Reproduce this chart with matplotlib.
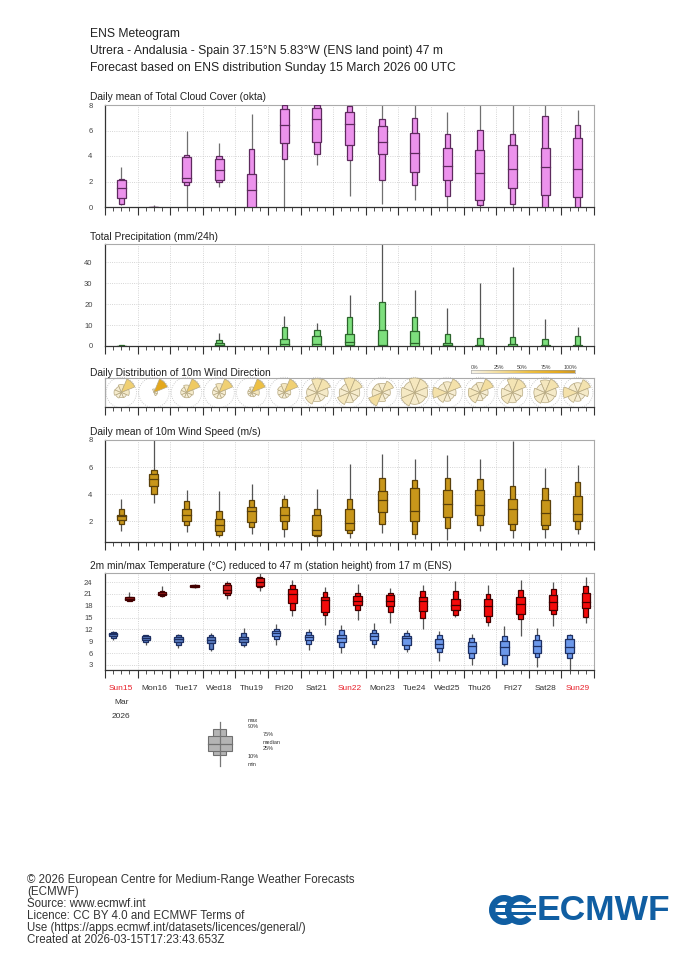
import numpy as np
import matplotlib
matplotlib.use('Agg')
import matplotlib.pyplot as plt
from matplotlib.patches import Rectangle, Wedge, Circle
from matplotlib.transforms import ScaledTranslation
from matplotlib.colors import LinearSegmentedColormap

plt.rcParams['font.family'] = ['Liberation Sans', 'DejaVu Sans']

# ---------------- data ----------------
days = ['Sun15', 'Mon16', 'Tue17', 'Wed18', 'Thu19', 'Fri20', 'Sat21', 'Sun22',
        'Mon23', 'Tue24', 'Wed25', 'Thu26', 'Fri27', 'Sat28', 'Sun29']

# each tuple: (min, p10, p25, median, p75, p90, max)
cloud = [
    (0.15, 0.26, 0.73, 1.52, 2.09, 2.22, 3.1),
    (0.0, 0.0, 0.0, 0.0, 0.0, 0.0, 0.15),
    (0.0, 1.75, 1.96, 2.27, 3.92, 4.05, 5.96),
    (1.57, 1.96, 2.09, 2.93, 3.76, 3.97, 5.02),
    (0.0, 0.0, 0.0, 1.36, 2.61, 4.58, 7.27),
    (0.0, 3.79, 5.02, 6.46, 7.66, 8.0, 8.0),
    (3.27, 4.18, 5.1, 6.9, 7.76, 8.0, 8.0),
    (0.84, 3.66, 4.84, 6.48, 7.45, 7.92, 8.0),
    (0.26, 2.09, 4.13, 5.12, 6.33, 6.93, 8.0),
    (0.58, 1.73, 2.72, 4.24, 5.8, 7.0, 8.0),
    (0.0, 0.89, 2.09, 3.22, 4.65, 5.75, 7.45),
    (0.0, 0.13, 0.52, 2.67, 4.5, 6.07, 8.0),
    (0.0, 0.21, 1.52, 2.95, 4.89, 5.73, 8.0),
    (0.0, 0.0, 0.97, 3.14, 4.65, 7.11, 8.0),
    (0.0, 0.0, 0.78, 2.95, 5.41, 6.46, 7.63),
]

precip = [
    (0.0, 0.0, 0.0, 0.1, 0.2, 0.3, 0.4),
    (0.0, 0.0, 0.0, 0.0, 0.0, 0.0, 0.0),
    (0.0, 0.0, 0.0, 0.0, 0.0, 0.0, 0.0),
    (0.0, 0.0, 0.0, 0.5, 1.6, 2.9, 6.3),
    (0.0, 0.0, 0.0, 0.0, 0.0, 0.0, 0.0),
    (0.0, 0.0, 0.0, 0.8, 3.2, 9.0, 14.3),
    (0.0, 0.0, 0.0, 1.1, 4.8, 7.6, 11.1),
    (0.0, 0.0, 0.5, 2.1, 5.9, 14.0, 24.3),
    (0.0, 0.0, 0.0, 0.6, 7.6, 21.0, 49.0),
    (0.0, 0.0, 0.0, 1.6, 7.0, 13.8, 26.8),
    (0.0, 0.0, 0.0, 0.3, 1.3, 5.7, 18.1),
    (0.0, 0.0, 0.0, 0.0, 0.5, 3.8, 30.2),
    (0.0, 0.0, 0.0, 0.0, 1.0, 4.4, 37.8),
    (0.0, 0.0, 0.0, 0.0, 0.5, 3.3, 12.9),
    (0.0, 0.0, 0.0, 0.0, 0.6, 4.8, 9.2),
]

# fraction of members per sector: N, NE, E, SE, S, SW, W, NW
wind_dir_sectors = [0, 45, 90, 135, 180, 225, 270, 315]
wind_dir = [
    [0.12, 0.40, 0.12, 0.06, 0.05, 0.07, 0.10, 0.08],
    [0.05, 0.85, 0.05, 0.05, 0.00, 0.00, 0.00, 0.00],
    [0.12, 0.45, 0.10, 0.07, 0.06, 0.06, 0.07, 0.07],
    [0.15, 0.40, 0.08, 0.07, 0.07, 0.07, 0.08, 0.08],
    [0.08, 0.55, 0.15, 0.06, 0.04, 0.04, 0.04, 0.04],
    [0.15, 0.40, 0.08, 0.06, 0.06, 0.07, 0.08, 0.10],
    [0.18, 0.20, 0.12, 0.08, 0.08, 0.15, 0.10, 0.09],
    [0.20, 0.18, 0.10, 0.08, 0.10, 0.16, 0.10, 0.08],
    [0.10, 0.18, 0.08, 0.06, 0.10, 0.25, 0.12, 0.11],
    [0.15, 0.15, 0.12, 0.10, 0.10, 0.15, 0.13, 0.10],
    [0.12, 0.22, 0.08, 0.06, 0.08, 0.12, 0.22, 0.10],
    [0.12, 0.25, 0.08, 0.06, 0.08, 0.15, 0.16, 0.10],
    [0.18, 0.20, 0.10, 0.08, 0.10, 0.14, 0.12, 0.08],
    [0.15, 0.20, 0.12, 0.10, 0.10, 0.13, 0.12, 0.08],
    [0.10, 0.20, 0.12, 0.06, 0.08, 0.12, 0.22, 0.10],
]

wind_speed = [
    (1.28, 1.75, 2.10, 2.37, 2.47, 2.91, 3.65),
    (3.36, 4.02, 4.57, 5.14, 5.48, 5.80, 8.0),
    (1.19, 1.73, 1.98, 2.47, 2.86, 3.50, 4.32),
    (0.84, 0.94, 1.23, 1.68, 2.12, 2.72, 4.20),
    (1.04, 1.53, 1.93, 2.72, 3.01, 3.56, 4.77),
    (0.79, 1.43, 2.02, 2.42, 3.01, 3.60, 3.90),
    (0.44, 0.86, 0.99, 1.36, 2.42, 2.91, 4.40),
    (0.77, 1.14, 1.36, 1.88, 2.86, 3.65, 6.22),
    (1.09, 1.80, 2.67, 3.58, 4.20, 5.19, 6.99),
    (0.69, 1.06, 2.02, 2.77, 4.47, 5.06, 6.57),
    (0.57, 1.51, 2.30, 3.28, 4.27, 5.19, 6.91),
    (1.23, 1.68, 2.42, 3.21, 4.27, 5.14, 6.62),
    (0.74, 1.36, 1.80, 2.91, 3.65, 4.59, 7.90),
    (0.74, 1.38, 1.73, 2.62, 3.56, 4.47, 5.93),
    (1.04, 1.38, 2.02, 2.54, 3.83, 4.89, 6.17),
]

tmin = [
    (9.4, 9.9, 10.2, 10.73, 11.15, 11.3, 11.57),
    (8.0, 8.9, 9.4, 9.9, 10.3, 10.5, 10.7),
    (7.4, 8.0, 8.7, 9.55, 10.06, 10.56, 10.9),
    (6.5, 7.1, 8.6, 9.4, 10.06, 10.56, 11.1),
    (7.5, 8.0, 8.9, 9.55, 10.06, 11.1, 12.4),
    (8.0, 9.6, 10.2, 11.1, 11.7, 12.2, 13.4),
    (6.7, 8.4, 9.4, 10.06, 10.7, 11.4, 12.2),
    (6.1, 7.5, 8.9, 9.9, 10.7, 11.9, 13.1),
    (7.2, 8.4, 9.2, 10.2, 11.1, 11.9, 13.7),
    (6.3, 6.9, 8.0, 9.7, 10.2, 11.1, 11.9),
    (4.0, 6.2, 7.4, 8.4, 9.55, 10.7, 11.7),
    (3.0, 4.85, 6.0, 7.7, 8.7, 9.9, 10.9),
    (2.7, 3.3, 5.5, 7.5, 9.05, 10.4, 12.8),
    (2.5, 5.0, 6.1, 7.9, 9.4, 10.56, 12.4),
    (1.7, 4.7, 6.1, 7.5, 9.55, 10.7, 10.9),
]

tmax = [
    (19.1, 19.3, 19.5, 19.8, 20.1, 20.3, 21.5),
    (20.3, 20.5, 20.65, 21.0, 21.5, 21.65, 22.9),
    (22.5, 22.7, 22.75, 23.0, 23.25, 23.3, 23.5),
    (19.8, 20.8, 21.3, 22.1, 23.2, 23.8, 24.3),
    (21.8, 22.7, 23.0, 24.0, 25.0, 25.4, 26.3),
    (15.3, 17.0, 18.6, 21.0, 22.2, 23.3, 24.5),
    (13.1, 15.6, 16.4, 19.5, 20.1, 21.5, 22.7),
    (14.3, 17.0, 18.3, 19.3, 20.5, 21.3, 23.5),
    (13.6, 16.4, 17.9, 19.3, 20.65, 21.3, 22.5),
    (12.0, 14.9, 16.6, 19.1, 20.1, 21.65, 23.2),
    (15.1, 15.6, 16.9, 18.3, 19.6, 21.65, 24.3),
    (12.9, 13.9, 15.3, 18.0, 19.6, 21.1, 23.2),
    (10.3, 14.6, 15.8, 18.5, 20.1, 22.0, 24.5),
    (12.9, 15.8, 16.9, 19.0, 20.65, 22.3, 24.0),
    (13.6, 15.1, 17.3, 19.0, 21.15, 23.0, 25.2),
]

# ---------------- styles ----------------
tmin_fill = ['#5a7dc2'] * 5 + ['#6c98ea'] * 10
tmax_fill = ['#8c1c1c', '#9a1a1a', '#a81a1a', '#d41c1c', '#e41414'] + ['#f40a0a'] * 10

W, H = 700, 966
fig = plt.figure(figsize=(W / 100, H / 100), dpi=100)


def ax_px(l, t, r, b, **kw):
    return fig.add_axes([l / W, 1 - b / H, (r - l) / W, (b - t) / H], **kw)


def style(ax, ylim, yticks):
    ax.set_xlim(0, 15)
    ax.set_ylim(*ylim)
    ax.set_xticks(np.arange(0, 16))
    ax.set_xticks(np.arange(0, 15.01, 0.25), minor=True)
    ax.tick_params(axis='x', which='major', length=6, width=0.8, color='#333',
                   labelbottom=False, direction='out')
    ax.tick_params(axis='x', which='minor', length=3, width=0.6, color='#333',
                   direction='out')
    if yticks is None:
        ax.set_yticks([])
    else:
        ax.set_yticks(yticks)
        ax.set_yticklabels([str(v) for v in yticks])
    ax.tick_params(axis='y', length=0, labelsize=5.5, labelcolor='#444', pad=9)
    for s in ['top', 'right']:
        ax.spines[s].set_color('#aaaaaa')
        ax.spines[s].set_linewidth(0.8)
    for s in ['left', 'bottom']:
        ax.spines[s].set_color('#333333')
        ax.spines[s].set_linewidth(0.9)
    ax.grid(axis='x', which='major', ls=':', color='#c8c8c8', lw=0.6)
    if yticks is not None:
        ax.grid(axis='y', ls=':', color='#c8c8c8', lw=0.6)
    ax.set_axisbelow(True)


def draw_box(ax, x, s, fill, edge, whisk='#666666', wn=0.16, ww=0.28):
    mn, p10, p25, med, p75, p90, mx = s
    ax.plot([x, x], [mn, mx], color=whisk, lw=0.9, zorder=2, solid_capstyle='butt')
    ax.add_patch(Rectangle((x - wn / 2, p10), wn, p90 - p10, fc=fill, ec=edge,
                           lw=0.9, zorder=3))
    ax.add_patch(Rectangle((x - ww / 2, p25), ww, p75 - p25, fc=fill, ec=edge,
                           lw=0.9, zorder=4))
    ax.plot([x - ww / 2, x + ww / 2], [med, med], color=edge, lw=0.9, zorder=5)


def title(y, txt, size=7.4):
    fig.text(90 / W, 1 - y / H, txt, fontsize=size, color='#222', va='center', ha='left')


# header
for y, txt in [(34, 'ENS Meteogram'),
               (51, 'Utrera - Andalusia - Spain 37.15°N 5.83°W (ENS land point) 47 m'),
               (68, 'Forecast based on ENS distribution Sunday 15 March 2026 00 UTC')]:
    fig.text(90 / W, 1 - y / H, txt, fontsize=8.7, color='#222', va='center')

# --- cloud cover
ax_c = ax_px(105, 105, 594, 207)
style(ax_c, (0, 8), [0, 2, 4, 6, 8])
title(97, 'Daily mean of Total Cloud Cover (okta)')
for i, s in enumerate(cloud):
    draw_box(ax_c, i + 0.5, s, '#ec92ec', '#5e2a5e', whisk='#707070')

# --- precipitation
ax_p = ax_px(105, 244, 594, 346)
style(ax_p, (0, 48.7), [0, 10, 20, 30, 40])
title(237, 'Total Precipitation (mm/24h)')
for i, s in enumerate(precip):
    if max(s) <= 0:
        continue
    draw_box(ax_p, i + 0.5, s, '#7ddf7d', '#2c642c', whisk='#555555')

# --- wind direction
ax_d = ax_px(105, 378, 594, 407)
style(ax_d, (-1, 1), None)
ax_d.spines['left'].set_color('#aaaaaa')
title(373, 'Daily Distribution of 10m Wind Direction')
cmap = LinearSegmentedColormap.from_list(
    'wd', [(0, '#f7f4ea'), (0.28, '#f3dc98'), (0.55, '#edc044'), (0.85, '#e4a81c'),
           (1.0, '#c8962a')])
R = 0.145
for i, fr in enumerate(wind_dir):
    fr = np.asarray(fr, dtype=float)
    fmax = fr.max()
    tr = fig.dpi_scale_trans + ScaledTranslation(i + 0.5, 0, ax_d.transData)
    ax_d.add_patch(Circle((0, 0), 0.152, transform=tr, fill=False, ls=':',
                          ec='#bdbdbd', lw=0.6, clip_on=False, zorder=2))
    for d, f in zip(wind_dir_sectors, fr):
        if f <= 0:
            continue
        r = R * np.sqrt(f / fmax)
        ax_d.add_patch(Wedge((0, 0), r, 90 - d - 22.5, 90 - d + 22.5, transform=tr,
                             fc=cmap(f), ec='#b6a880', lw=0.5, clip_on=False, zorder=3))

# colour bar
ax_cb = ax_px(471, 370, 575, 373)
ax_cb.imshow(np.linspace(0, 1, 256)[None, :], aspect='auto', cmap=cmap,
             extent=[0, 1, 0, 1])
ax_cb.set_xticks([])
ax_cb.set_yticks([])
for s in ax_cb.spines.values():
    s.set_color('#999')
    s.set_linewidth(0.4)
for frac, lbl in zip([0, 0.25, 0.5, 0.75, 1.0], ['0%', '25%', '50%', '75%', '100%']):
    fig.text((475 + frac * 95) / W, 1 - 367 / H, lbl, fontsize=3.8, color='#444',
             ha='center', va='center')

# --- wind speed
ax_w = ax_px(105, 440, 594, 542)
style(ax_w, (0.45, 8), [2, 4, 6, 8])
title(432, 'Daily mean of 10m Wind Speed (m/s)')
for i, s in enumerate(wind_speed):
    draw_box(ax_w, i + 0.5, s, '#c8961a', '#5a400a', whisk='#555555')

# --- temperature
ax_t = ax_px(105, 573, 594, 670)
style(ax_t, (1.7, 26.3), [3, 6, 9, 12, 15, 18, 21, 24])
title(566, '2m min/max Temperature (°C) reduced to 47 m (station height) from 17 m (ENS)',
      size=7.3)
for i, s in enumerate(tmin):
    draw_box(ax_t, i + 0.25, s, tmin_fill[i], '#1d2f62', whisk='#555555',
             wn=0.15, ww=0.26)
for i, s in enumerate(tmax):
    draw_box(ax_t, i + 0.75, s, tmax_fill[i], '#420000', whisk='#555555',
             wn=0.15, ww=0.26)

for i, d in enumerate(days):
    col = '#e8202a' if d.startswith('Sun') else '#333333'
    ax_t.annotate(d, xy=(i + 0.5, 0), xycoords=('data', 'axes fraction'),
                  xytext=(0, -18), textcoords='offset pixels', ha='center',
                  va='center', fontsize=6, color=col)
ax_t.annotate('Mar', xy=(0.5, 0), xycoords=('data', 'axes fraction'), xytext=(0, -32),
              textcoords='offset pixels', ha='center', va='center', fontsize=6,
              color='#333')
ax_t.annotate('2026', xy=(0.5, 0), xycoords=('data', 'axes fraction'), xytext=(0, -46),
              textcoords='offset pixels', ha='center', va='center', fontsize=6,
              color='#333')

# --- legend schematic
ax_l = ax_px(180, 715, 300, 775)
ax_l.set_xlim(180, 300)
ax_l.set_ylim(775, 715)
ax_l.axis('off')
ax_l.plot([220, 220], [722, 766], color='#777', lw=0.9)
ax_l.add_patch(Rectangle((213.5, 729), 13, 26, fc='#b4b4b4', ec='#707070', lw=0.8))
ax_l.add_patch(Rectangle((208, 736), 24, 15, fc='#b4b4b4', ec='#707070', lw=0.8))
ax_l.plot([208, 232], [743.5, 743.5], color='#707070', lw=0.9)
for x, y, t in [(248, 720, 'max'), (248, 727, '90%'), (263, 734.5, '75%'),
                (263, 742, 'median'), (263, 749, '25%'), (248, 757, '10%'),
                (248, 764, 'min')]:
    fig.text(x / W, 1 - y / H, t, fontsize=4, color='#333', va='center', ha='left')

# --- footer
footer = ['© 2026 European Centre for Medium-Range Weather Forecasts',
          '(ECMWF)',
          'Source: www.ecmwf.int',
          'Licence: CC BY 4.0 and ECMWF Terms of',
          'Use (https://apps.ecmwf.int/datasets/licences/general/)',
          'Created at 2026-03-15T17:23:43.653Z']
for k, line in enumerate(footer):
    fig.text(27 / W, 1 - (880 + 12 * k) / H, line, fontsize=8.3, color='#333',
             va='center', ha='left')

# --- logo
blue = '#105ea2'
ax_g = ax_px(486, 890, 540, 930)
ax_g.set_xlim(486, 540)
ax_g.set_ylim(930, 890)
ax_g.axis('off')
for cx in (504, 520):
    ax_g.add_patch(Wedge((cx, 910), 15, 40, 320, width=6.5, fc=blue, ec='none'))
ax_g.add_patch(Rectangle((496, 905.0), 40, 3.4, fc=blue, ec='none'))
ax_g.add_patch(Rectangle((496, 911.6), 40, 3.4, fc=blue, ec='none'))
fig.text(537 / W, 1 - 910 / H, 'ECMWF', fontsize=25.5, fontweight='bold', color=blue,
         family=['Liberation Sans', 'DejaVu Sans'], va='center', ha='left')

fig.savefig('out.png', dpi=100)
